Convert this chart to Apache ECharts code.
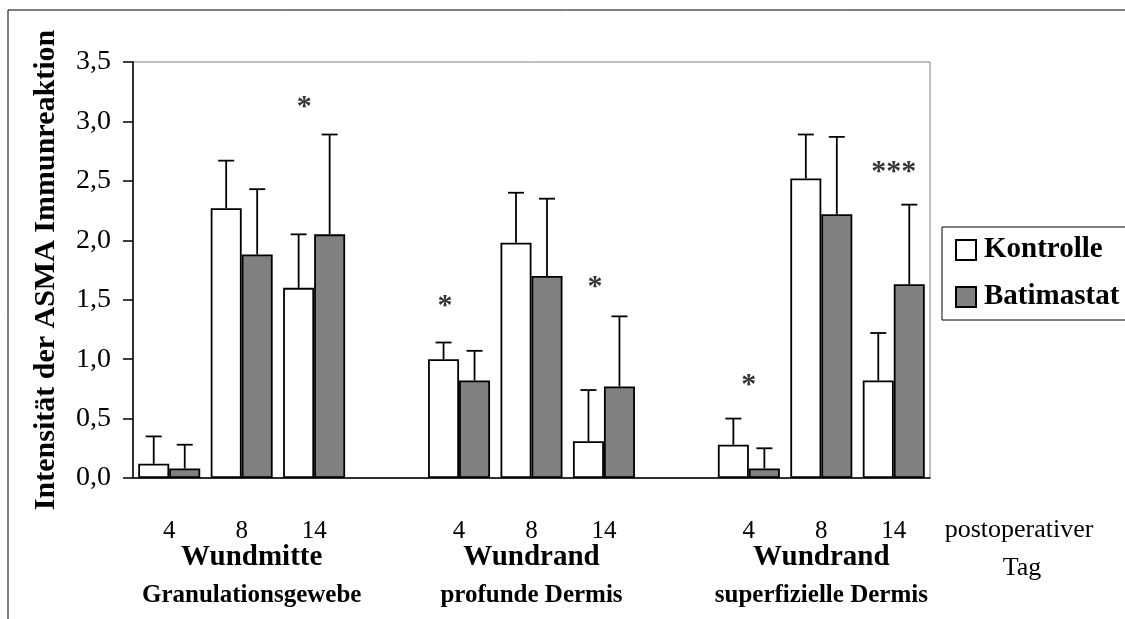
<!DOCTYPE html>
<html>
<head>
<meta charset="utf-8">
<title>ASMA Immunreaktion</title>
<script src="https://cdn.jsdelivr.net/npm/echarts@6/dist/echarts.min.js"></script>
<style>
  html, body { margin: 0; padding: 0; background: #fff; }
  #chart { width: 1125px; height: 619px; }
</style>
</head>
<body>
<div id="chart"></div>
<script>
// 11 slots on the x axis: 3 groups of days with an empty slot between groups
const slots = ['WM-4', 'WM-8', 'WM-14', 'gap1', 'PD-4', 'PD-8', 'PD-14', 'gap2', 'SD-4', 'SD-8', 'SD-14'];
const dayLabels = ['4', '8', '14', '', '4', '8', '14', '', '4', '8', '14'];

const groupSlots = [1, 5, 9];
const groupTitles = ['Wundmitte', 'Wundrand', 'Wundrand'];
const groupSubtitles = ['Granulationsgewebe', 'profunde Dermis', 'superfizielle Dermis'];

// means and standard deviations ('-' = empty slot)
const kontrolle   = [0.12, 2.27, 1.60, '-', 1.00, 1.98, 0.31, '-', 0.28, 2.52, 0.82];
const kontrolleSd = [0.23, 0.40, 0.45, '-', 0.14, 0.42, 0.43, '-', 0.22, 0.37, 0.40];
const batimastat   = [0.08, 1.88, 2.05, '-', 0.82, 1.70, 0.77, '-', 0.08, 2.22, 1.63];
const batimastatSd = [0.20, 0.55, 0.84, '-', 0.25, 0.65, 0.59, '-', 0.17, 0.65, 0.67];

// significance marks
const starSlots = [2, 4, 6, 8, 10];
const starHeights = [3.18, 1.50, 1.66, 0.84, 2.63];
const starTexts = ['*', '*', '*', '*', '***'];

const FONT = "'Liberation Serif', 'Times New Roman', serif";
const BAR_W = 31;
const starShift = [-10, -14, -9, 0, 0];

function errorData(means, sds) {
  const out = [];
  means.forEach((v, i) => {
    if (v !== '-') out.push([i, v, sds[i]]);
  });
  return out;
}

function errorBars(shift) {
  return function (params, api) {
    const i = api.value(0), v = api.value(1), sd = api.value(2);
    const base = api.coord([i, v]);
    const top = api.coord([i, v + sd]);
    const x = base[0] + shift;
    const st = { stroke: '#000', lineWidth: 1.8 };
    return {
      type: 'group',
      children: [
        { type: 'line', shape: { x1: x, y1: base[1], x2: x, y2: top[1] }, style: st },
        { type: 'line', shape: { x1: x - 8, y1: top[1], x2: x + 8, y2: top[1] }, style: st }
      ]
    };
  };
}

const chart = echarts.init(document.getElementById('chart'));

const option = {
  animation: false,
  textStyle: { fontFamily: FONT, color: '#000' },
  grid: {
    left: 133, top: 62, width: 797, height: 416,
    show: true, borderColor: '#808080', borderWidth: 1
  },
  legend: {
    orient: 'vertical',
    left: 942, top: 227,
    data: ['Kontrolle', 'Batimastat'],
    icon: 'rect',
    itemWidth: 20, itemHeight: 20, itemGap: 17,
    padding: [8, 14, 8, 13],
    borderColor: '#000', borderWidth: 1,
    textStyle: { fontFamily: FONT, fontSize: 29, fontWeight: 'bold', color: '#000', lineHeight: 30, padding: [0, 0, 0, 3] }
  },
  xAxis: [
    {
      type: 'category',
      data: slots,
      axisLine: { lineStyle: { color: '#000', width: 1.5 } },
      axisTick: { show: false },
      axisLabel: {
        interval: 0, margin: 41,
        fontFamily: FONT, fontSize: 25, color: '#000',
        formatter: (v, i) => dayLabels[i]
      }
    },
    {
      type: 'category',
      data: slots,
      position: 'bottom',
      axisLine: { show: false },
      axisTick: { show: false },
      axisLabel: {
        interval: 0, margin: 61,
        formatter: (v, i) => {
          const g = groupSlots.indexOf(i);
          if (g < 0) return '';
          const k = g === 0 ? '1' : '';
          return '{a' + k + '|' + groupTitles[g] + '}\n{b' + k + '|' + groupSubtitles[g] + '}';
        },
        rich: {
          a: { fontFamily: FONT, fontSize: 29, fontWeight: 'bold', color: '#000', lineHeight: 38 },
          b: { fontFamily: FONT, fontSize: 25, fontWeight: 'bold', color: '#000', lineHeight: 38 },
          a1: { fontFamily: FONT, fontSize: 29, fontWeight: 'bold', color: '#000', lineHeight: 38, padding: [0, 0, 0, 20] },
          b1: { fontFamily: FONT, fontSize: 25, fontWeight: 'bold', color: '#000', lineHeight: 38, padding: [0, 0, 0, 20] }
        }
      }
    }
  ],
  yAxis: {
    type: 'value',
    min: 0, max: 3.5, interval: 0.5,
    name: 'Intensität der ASMA Immunreaktion',
    nameLocation: 'middle',
    nameGap: 72,
    nameTextStyle: { fontFamily: FONT, fontSize: 30, fontWeight: 'bold', color: '#000' },
    axisLine: { show: true, lineStyle: { color: '#000', width: 1.5 } },
    axisTick: { show: true, length: 10, lineStyle: { color: '#000', width: 1.5 } },
    splitLine: { show: false },
    axisLabel: {
      margin: 22,
      fontFamily: FONT, fontSize: 28, color: '#000',
      formatter: v => v.toFixed(1).replace('.', ',')
    }
  },
  series: [
    {
      name: 'Kontrolle',
      type: 'bar',
      data: kontrolle,
      barWidth: BAR_W,
      barGap: '0%',
      itemStyle: { color: '#fff', borderColor: '#000', borderWidth: 1.8 }
    },
    {
      name: 'Batimastat',
      type: 'bar',
      data: batimastat,
      barWidth: BAR_W,
      barGap: '0%',
      itemStyle: { color: '#808080', borderColor: '#000', borderWidth: 1.8 }
    },
    {
      type: 'custom',
      renderItem: errorBars(-BAR_W / 2),
      data: errorData(kontrolle, kontrolleSd),
      encode: { x: 0, y: 1 },
      z: 3
    },
    {
      type: 'custom',
      renderItem: errorBars(BAR_W / 2),
      data: errorData(batimastat, batimastatSd),
      encode: { x: 0, y: 1 },
      z: 3
    },
    {
      type: 'scatter',
      symbolSize: 0,
      data: starSlots.map((s, k) => ({
        value: [s, starHeights[k]],
        label: {
          show: true,
          formatter: starTexts[k],
          offset: [starShift[k], 7]
        }
      })),
      label: {
        position: 'inside',
        fontFamily: FONT, fontSize: 30, fontWeight: 'bold', color: '#000'
      },
      z: 4
    }
  ],
  graphic: [
    { type: 'line', shape: { x1: 8, y1: 10, x2: 1125, y2: 10 }, style: { stroke: '#000', lineWidth: 1 } },
    { type: 'line', shape: { x1: 8, y1: 10, x2: 8, y2: 619 }, style: { stroke: '#000', lineWidth: 1 } },
    { type: 'text', x: 1019, y: 530, style: { text: 'postoperativer', font: '26px ' + FONT, fill: '#000', textAlign: 'center', textVerticalAlign: 'middle' } },
    { type: 'text', x: 1022, y: 568, style: { text: 'Tag', font: '26px ' + FONT, fill: '#000', textAlign: 'center', textVerticalAlign: 'middle' } }
  ]
};

chart.setOption(option);
</script>
</body>
</html>
